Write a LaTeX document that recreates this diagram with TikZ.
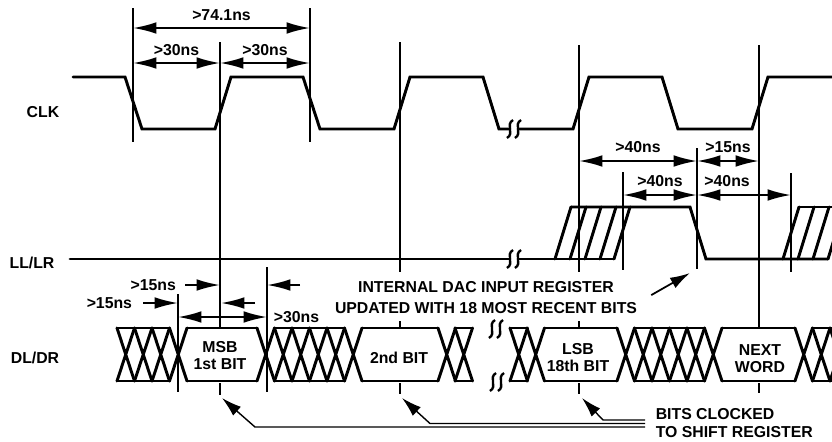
\documentclass[tikz,border=0pt]{standalone}
\usepackage{fontspec}
\setmainfont{Liberation Sans}
\usetikzlibrary{arrows.meta}
% pair of break marks centred at (#1,#2)
\newcommand*{\brk}[2]{%
  \draw[brkline, shift={(#1,#2)}] (-7,9) .. controls (1,4) and (-9,-4) .. (-1,-9)
    (1,9) .. controls (9,4) and (-1,-4) .. (7,-9);}
\newcommand*{\dtop}{328}
\newcommand*{\dbot}{381}

\begin{document}
\begin{tikzpicture}[x=0.03cm, y=-0.03cm,
    sig/.style ={line width=2.5pt, line cap=round},
    refl/.style ={line width=1.7pt},
    thinl/.style ={line width=0.9pt},
    brkline/.style ={line width=2pt},
    dim/.style ={line width=1.7pt,
      {Latex[length=20pt,width=10pt]}-{Latex[length=20pt,width=10pt]}},
    dimr/.style ={line width=1.7pt, -{Latex[length=20pt,width=10pt]}},
    pointer/.style ={line width=1.2pt, -{Latex[length=17pt,width=10pt]}},
    lbl/.style ={font=\bfseries\fontsize{13.5}{14.5}\selectfont,
      inner sep=1pt, align=center}]
    \useasboundingbox (0,0) rectangle (832,441);
    \clip (0,0) rectangle (832,441);
    % signal names
    \node [lbl] (clk) at (43,112) {CLK};
    \node [lbl] (ll) at (32,263) {LL/LR};
    \node [lbl] (dl) at (35,358) {DL/DR};
    % clock
    \draw[sig] (73,77) -- (125,77) -- (142,129) -- (215,129) -- (231,77) -- (303,77)
      -- (320,129) -- (394,129) -- (410,77) -- (483,77) -- (499,129) -- (510,129);
    \draw[sig] (518,129) -- (573,129) -- (589,77) -- (662,77) -- (678,129)
      -- (752,129) -- (768,77) -- (840,77);
    \brk{514}{129}
    % latch
    \draw[sig] (70,259) -- (510,259);
    \draw[sig] (518,259) -- (614,259);
    \draw[sig] (571,207) -- (690,207) -- (706,259) -- (828,259);
    \draw[sig] (799,207) -- (840,207);
    \foreach \x in {555,570,585,600,614,783,798,813,828}
      \draw[sig] (\x,259) -- (\x+16,207);
    \brk{514}{259}
    % data
    \foreach \a/\b in {117/169.5, 187/257, 274.5/344.5, 362/438, 455/472.5,
        510/527, 544.5/617, 634.5/704.5, 722/795, 812.5/840}
      \draw[sig] (\a,\dtop) -- (\b,\dtop) (\a,\dbot) -- (\b,\dbot);
    \foreach \x in {117,134.5,152,169.5,257,274.5,292,309.5,327,344.5,438,455,
        510,527,617,634.5,652,669.5,687,704.5,795,812.5,830}
      \draw[sig] (\x,\dtop) -- (\x+17.5,\dbot) (\x,\dbot) -- (\x+17.5,\dtop);
    \brk{496}{329}
    \brk{497}{382}
    \node [lbl] (msb) at (220,356) {MSB\\1st BIT};
    \node [lbl] (bit2) at (399,358) {2nd BIT};
    \node [lbl] (lsb) at (578,358) {LSB\\18th BIT};
    \node [lbl] (next) at (760,359) {NEXT\\WORD};
    % reference lines
    \draw[thinl] (133,8) -- (133,142);
    \draw[refl] (310,8) -- (310,142);
    \draw[refl] (220,42) -- (220,\dtop) (220,383) -- (220,395);
    \draw[refl] (400,42) -- (400,272) (400,321) -- (400,\dtop) (400,383) -- (400,394);
    \draw[refl] (579,45) -- (579,272) (579,321) -- (579,\dtop) (579,383) -- (579,394);
    \draw[refl] (759,45) -- (759,\dtop) (759,383) -- (759,393);
    \draw[refl] (623,172) -- (623,270);
    \draw[refl] (697,148) -- (697,269);
    \draw[refl] (791,173) -- (791,272);
    \draw[refl] (178,294) -- (178,392);
    \draw[refl] (267,267) -- (267,392);
    % timing
    \draw[dim] (133,28) -- node[lbl, above=4pt] (t74) {>74.1ns} (310,28);
    \draw[dim] (133,63) -- node[lbl, above=4pt] (t30a) {>30ns} (220,63);
    \draw[dim] (220,63) -- node[lbl, above=4pt] (t30b) {>30ns} (310,63);
    \draw[dim] (579,161) -- node[lbl, above=5pt] (t40a) {>40ns} (697,161);
    \draw[dim] (697,161) -- node[lbl, above=5pt] (t15c) {>15ns} (759,161);
    \draw[dim] (623,195) -- node[lbl, above=5pt] (t40b) {>40ns} (697,195);
    \draw[dim] (697,195) -- node[lbl, above=5pt, pos=0.32] (t40c) {>40ns} (791,195);
    \draw[dimr] (185,285) node[lbl, left=6pt] (t15a) {>15ns} -- (220,285);
    \draw[dimr] (300,285) -- (267,285);
    \draw[dimr] (143,303) node[lbl, left=7.5pt] (t15b) {>15ns} -- (178,303);
    \draw[dimr] (255,303) -- (221,303);
    \draw[dim] (178,317) -- (267,317) node[lbl, right=4pt] (t30c) {>30ns};
    % notes
    \node [lbl, font=\bfseries\fontsize{13.5}{18}\selectfont] (dac) at (486,298)
      {INTERNAL DAC INPUT REGISTER\\UPDATED WITH 18 MOST RECENT BITS};
    \coordinate (upd) at (690,273);
    \draw[pointer, line width=1.5pt] ([xshift=11pt,yshift=2.5pt]dac.east) -- (upd);
    \node [lbl, align=left, anchor=west, inner xsep=9pt,
      font=\bfseries\fontsize{13.5}{15.3}\selectfont] (bits) at (645,423.5)
      {BITS CLOCKED\\TO SHIFT REGISTER};
    \coordinate (tmsb) at (222,398);
    \coordinate (tbit2) at (402,398);
    \coordinate (tlsb) at (582,398);
    \draw[pointer] (bits.west |- 0,427) -- (255,427) -- (tmsb);
    \draw[pointer] (bits.west |- 0,423.5) -- (430,423.5) -- (tbit2);
    \draw[pointer] (bits.west |- 0,420) -- (603,420) -- (tlsb);
\end{tikzpicture}
\end{document}
